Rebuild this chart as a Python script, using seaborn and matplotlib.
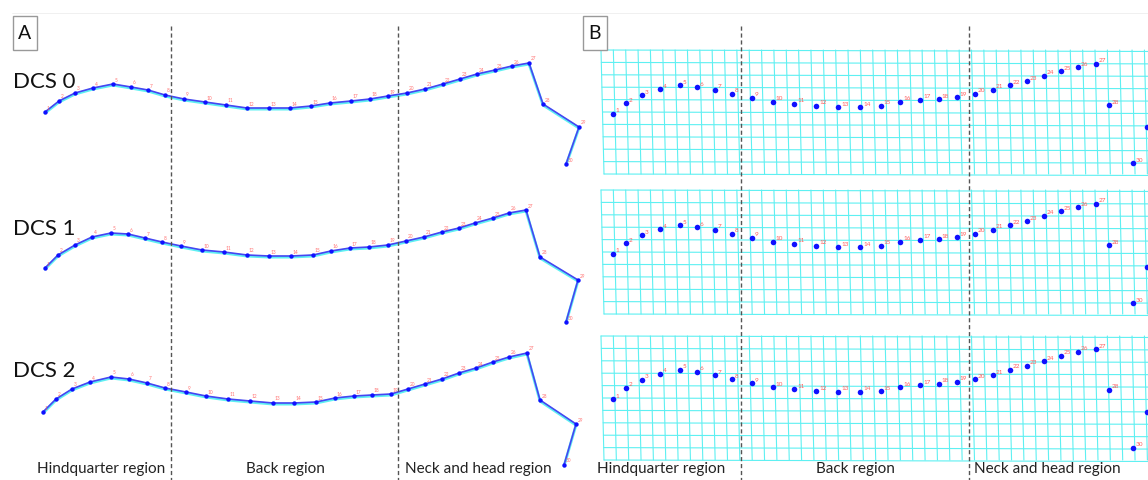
import numpy as np
import pandas as pd
import matplotlib
matplotlib.use("Agg")
import matplotlib.pyplot as plt
import matplotlib.transforms as mtransforms
import seaborn as sns

# ======================
# Landmark data (image units, y grows downwards)
# ======================
landmark_ids = list(range(1, 31))

# Panel A - fitted spine curves
dcs0_a_x = [45, 59, 75, 93, 113, 131, 148, 165, 184, 205, 226, 247, 269, 290, 311,
            330, 351, 370, 388, 407, 425, 443, 460, 477, 495, 512, 529, 543, 579, 566]
dcs0_a_y = [112, 101, 93, 88, 84, 87, 90, 95, 99, 102, 105, 108, 108, 108, 106,
            103, 101, 99, 96, 93, 89, 84, 79, 74, 70, 66, 63, 104, 127, 164]

dcs1_a_x = [45, 58, 75, 92, 111, 128, 145, 162, 181, 202, 224, 247, 269, 291, 313,
            331, 350, 369, 388, 406, 424, 442, 459, 475, 493, 509, 526, 540, 578, 566]
dcs1_a_y = [268, 255, 245, 237, 233, 234, 238, 242, 246, 250, 252, 255, 256, 256, 255,
            251, 248, 247, 245, 241, 237, 232, 228, 223, 218, 213, 210, 257, 280, 322]

dcs2_a_x = [43, 56, 72, 90, 111, 129, 147, 165, 186, 206, 228, 250, 273, 294, 316,
            335, 354, 372, 391, 408, 425, 442, 459, 476, 493, 509, 527, 540, 576, 564]
dcs2_a_y = [412, 399, 389, 382, 377, 379, 383, 388, 392, 396, 399, 401, 403, 403, 402,
            398, 396, 395, 394, 389, 384, 379, 373, 368, 362, 357, 353, 400, 424, 465]

# Panel B - landmarks on the deformed grid
dcs_b_x = [613, 626, 642, 660, 680, 697, 715, 732, 752, 773, 794, 816, 838, 860, 881,
           900, 920, 939, 957, 975, 993, 1010, 1027, 1044, 1061, 1078, 1096, 1109, 1147, 1133]
dcs0_b_y = [114, 103, 95, 89, 85, 87, 90, 94, 98, 102, 104, 106, 107, 107, 106,
            102, 100, 99, 97, 94, 90, 85, 81, 76, 71, 67, 64, 105, 127, 163]
dcs1_b_y = [254, 243, 235, 229, 225, 227, 230, 234, 238, 242, 244, 246, 247, 247, 246,
            242, 240, 239, 237, 234, 230, 225, 221, 216, 211, 207, 204, 245, 267, 303]
dcs2_b_y = [399, 388, 380, 374, 370, 372, 375, 379, 383, 387, 389, 391, 392, 392, 391,
            387, 385, 384, 382, 379, 375, 370, 366, 361, 356, 352, 349, 390, 412, 448]

dcs_labels = ["DCS 0", "DCS 1", "DCS 2"]
label_y = [82, 229, 371]
region_names = ["Hindquarter region", "Back region", "Neck and head region"]
region_a_x = [101, 285, 478]
region_b_x = [661, 855, 1047]
divider_a_x = [171, 398]
divider_b_x = [741, 969]

# grid extents for panel B rows (top, bottom)
grid_rows = [(50, 174), (190, 314), (336, 460)]
grid_step = 12.35

sns.set_theme(style="white")
plt.rcParams["font.family"] = ["Lato", "DejaVu Sans"]

fig = plt.figure(figsize=(11.48, 4.8), dpi=100)
ax = fig.add_axes([0, 0, 1, 1])
ax.set_xlim(0, 1148)
ax.set_ylim(480, 0)
ax.axis("off")

blue = "#1010ff"
line_blue = "#4646f2"
cyan = "#5ef0f2"
red = "#ff5a5a"

# ======================
# Panel B grids
# ======================
for top, bottom in grid_rows:
    n_rows = int(round((bottom - top) / grid_step))
    ys = np.linspace(top, bottom, n_rows + 1)
    xs = np.arange(601, 1160, grid_step)
    for i, yy in enumerate(ys):
        ax.plot([601 + i * 0.3, 1160], [yy, yy + 1.5], color=cyan, lw=0.8, zorder=1)
    for xx in xs:
        ax.plot([xx, xx + 3], [top, bottom], color=cyan, lw=0.8, zorder=1)

# ======================
# Panel A curves
# ======================
shift = mtransforms.ScaledTranslation(0, -0.8 / 72, fig.dpi_scale_trans)
for xs, ys in [(dcs0_a_x, dcs0_a_y), (dcs1_a_x, dcs1_a_y), (dcs2_a_x, dcs2_a_y)]:
    df = pd.DataFrame({"x": xs, "y": ys, "id": landmark_ids})
    ax.plot(df["x"], df["y"], color=cyan, lw=2.0, zorder=2,
            transform=ax.transData + shift)
    sns.lineplot(data=df, x="x", y="y", sort=False, estimator=None, color=line_blue,
                 lw=1.2, ax=ax, zorder=3)
    sns.scatterplot(data=df, x="x", y="y", color=blue, s=10, linewidth=0, ax=ax, zorder=4)
    for _, r in df.iterrows():
        ax.text(r["x"] + 2, r["y"] - 1.5, str(int(r["id"])), color=red, fontsize=3.4,
                ha="left", va="bottom", zorder=5, alpha=0.85)

# ======================
# Panel B landmarks
# ======================
for ys in [dcs0_b_y, dcs1_b_y, dcs2_b_y]:
    df = pd.DataFrame({"x": dcs_b_x, "y": ys, "id": landmark_ids})
    sns.scatterplot(data=df, x="x", y="y", color=blue, s=16, linewidth=0, ax=ax, zorder=4)
    for _, r in df.iterrows():
        # labels past the right edge are cropped away in the original
        if r["x"] + 3 > 1140:
            continue
        ax.text(r["x"] + 3, r["y"] - 0.5, str(int(r["id"])), color=red, fontsize=4.6,
                ha="left", va="bottom", zorder=5)

# ======================
# Dividers, labels, boxes
# ======================
for xx in divider_a_x + divider_b_x:
    ax.plot([xx, xx], [26, 480], color="#555555", lw=1.0, ls=(0, (3, 2)), zorder=6)

for txt, yy in zip(dcs_labels, label_y):
    ax.text(13, yy, txt, fontsize=16, color="#111111", ha="left", va="center")

for name, xa, xb in zip(region_names, region_a_x, region_b_x):
    ax.text(xa, 469, name, fontsize=11, color="#222222", ha="center", va="center")
    ax.text(xb, 469, name, fontsize=11, color="#222222", ha="center", va="center")

for letter, x0 in [("A", 12.7), ("B", 582.7)]:
    ax.add_patch(plt.Rectangle((x0, 16), 24.5, 34, fill=True, facecolor="white",
                               edgecolor="#999999", lw=1, zorder=7))
    ax.text(x0 + 12.2, 33.5, letter, fontsize=14, color="#111111", ha="center",
            va="center", zorder=8)

ax.plot([12, 1148], [13, 13], color="#eeeeee", lw=0.6, zorder=0)

fig.savefig("out.png", dpi=100)
plt.close(fig)
